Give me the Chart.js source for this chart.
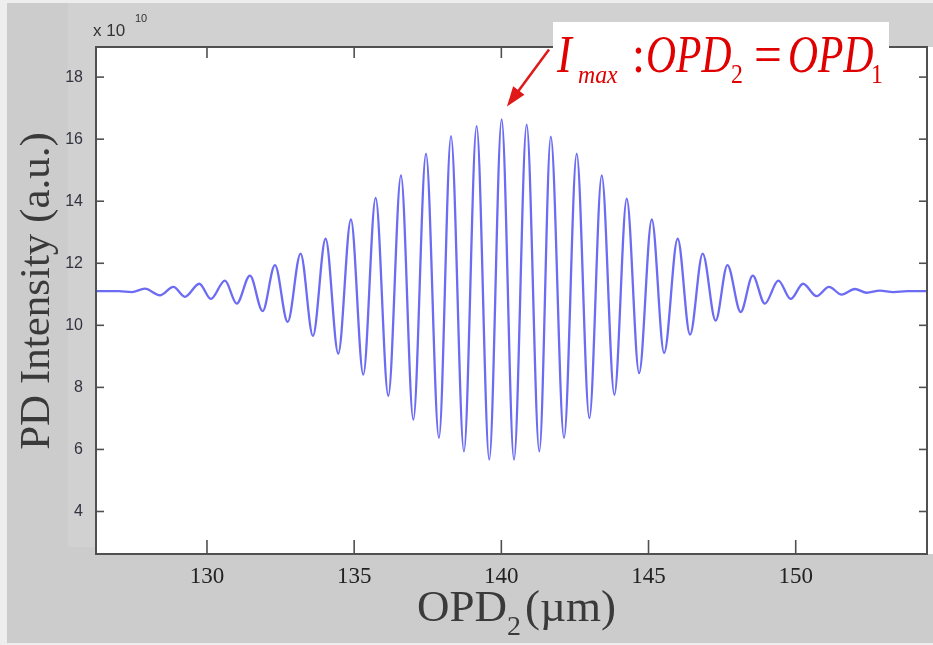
<!DOCTYPE html>
<html>
<head>
<meta charset="utf-8">
<script src="https://cdn.jsdelivr.net/npm/chart.js@4.4.1/dist/chart.umd.min.js"></script>
<style>
html, body { margin: 0; padding: 0; background: #fff; }
canvas { display: block; }
</style>
</head>
<body>
<canvas id="Graphic_pd" width="933" height="645"></canvas>
<script>
// OPD2 in µm at every peak / trough
var opdX = [126.23, 127.0, 127.45, 127.89, 128.40, 128.86, 129.25, 129.74, 130.13, 130.61,
  131.01, 131.46, 131.89, 132.31, 132.74, 133.18, 133.60, 134.03, 134.46, 134.89,
  135.31, 135.73, 136.16, 136.59, 137.01, 137.44, 137.88, 138.29, 138.73, 139.16,
  139.59, 140.01, 140.43, 140.86, 141.29, 141.68, 142.13, 142.56, 142.99, 143.41,
  143.84, 144.26, 144.68, 145.11, 145.53, 145.99, 146.41, 146.84, 147.28, 147.68,
  148.13, 148.54, 148.95, 149.41, 149.83, 150.25, 150.71, 151.13, 151.56, 152.01,
  152.41, 152.86, 153.31, 153.8, 154.46];
// PD intensity, x 10^10
var intensity = [11.10, 11.10, 11.07, 11.18, 10.97, 11.24, 10.92, 11.34, 10.85, 11.44,
  10.70, 11.60, 10.46, 11.94, 10.11, 12.31, 9.66, 12.79, 9.09, 13.41,
  8.41, 14.11, 7.73, 14.83, 6.96, 15.53, 6.37, 16.10, 5.94, 16.42,
  5.67, 16.64, 5.67, 16.47, 5.94, 16.08, 6.37, 15.53, 7.01, 14.83,
  7.76, 14.08, 8.46, 13.41, 9.11, 12.79, 9.70, 12.31, 10.15, 11.94,
  10.43, 11.60, 10.70, 11.44, 10.85, 11.34, 10.94, 11.24, 10.99, 11.17,
  11.05, 11.12, 11.07, 11.10, 11.10];
var xTicks = [130, 135, 140, 145, 150];
var yTicks = [4, 6, 8, 10, 12, 14, 16, 18];
var xRange = [126.23, 154.46];
var yRange = [2.63, 18.97];
// arrow pointing at I_max, in data units
var arrowFrom = [141.62, 18.89];
var arrowTo = [140.19, 17.05];

var points = opdX.map(function (x, i) { return { x: x, y: intensity[i] }; });

function line(c, x1, y1, x2, y2) {
  c.beginPath(); c.moveTo(x1, y1); c.lineTo(x2, y2); c.stroke();
}
function piece(c, s, x, y, font, sx) {
  c.save();
  c.font = font;
  c.translate(x, y);
  c.scale(sx, 1);
  c.fillText(s, 0, 0);
  c.restore();
}

var figure = {
  id: 'figure',
  beforeDraw: function (chart) {
    var c = chart.ctx, a = chart.chartArea;
    c.save();
    c.fillStyle = '#eeeeee';
    c.fillRect(0, 0, chart.width, chart.height);
    c.fillStyle = '#cccccc';
    c.fillRect(7, 3, chart.width - 7, 640);
    c.fillStyle = '#d1d1d1';
    c.fillRect(68, 3, a.left - 68, 544);
    c.fillRect(68, 3, chart.width - 68, a.top - 3);
    c.fillStyle = '#ffffff';
    c.fillRect(a.left, a.top, chart.width - a.left, a.bottom - a.top);
    c.restore();
  },
  afterDraw: function (chart) {
    var c = chart.ctx, a = chart.chartArea;
    var xs = chart.scales.x, ys = chart.scales.y;
    c.save();
    // box + inward ticks
    c.strokeStyle = '#505050';
    c.lineWidth = 2;
    c.strokeRect(a.left, a.top, a.right - a.left, a.bottom - a.top);
    c.lineWidth = 1.6;
    xs.ticks.forEach(function (t) {
      var px = xs.getPixelForValue(t.value);
      line(c, px, a.bottom, px, a.bottom - 14);
      line(c, px, a.top, px, a.top + 11);
    });
    ys.ticks.forEach(function (t) {
      var py = ys.getPixelForValue(t.value);
      line(c, a.left, py, a.left + 8, py);
      line(c, a.right, py, a.right - 8, py);
    });

    // exponent
    c.fillStyle = '#333';
    c.font = '17px "Liberation Sans"';
    c.fillText('x 10', 93, 36);
    c.font = '11px "Liberation Sans"';
    c.fillText('10', 135, 22);

    // y title
    c.save();
    c.fillStyle = '#3a3a3a';
    c.font = '43px "Liberation Serif"';
    c.textAlign = 'center';
    c.translate(49, 291);
    c.rotate(-Math.PI / 2);
    c.fillText('PD Intensity (a.u.)', 0, 0);
    c.restore();

    // x title with subscript
    c.fillStyle = '#3a3a3a';
    var big = '45px "Liberation Serif"', sub = '28px "Liberation Serif"';
    c.font = big; var w1 = c.measureText('OPD').width, w3 = c.measureText('(\u00b5m)').width;
    c.font = sub; var w2 = c.measureText('2').width;
    var x0 = (a.left + a.right) / 2 + 5 - (w1 + w2 + 4 + w3) / 2;
    c.font = big; c.fillText('OPD', x0, 621);
    c.font = sub; c.fillText('2', x0 + w1, 635);
    c.font = big; c.fillText('(\u00b5m)', x0 + w1 + w2 + 4, 621);

    // annotation
    c.fillStyle = '#ffffff';
    c.fillRect(553, 22, 336, 38);
    c.fillStyle = '#e00000';
    var it = 'italic 52px "Liberation Serif"';
    piece(c, 'I', 557, 71.5, it, 0.85);
    piece(c, 'max', 578, 83, 'italic 25px "Liberation Serif"', 0.95);
    piece(c, ':', 632, 71.5, '52px "Liberation Serif"', 0.9);
    piece(c, 'OPD', 646, 71.5, it, 0.8);
    piece(c, '2', 731, 83, '28px "Liberation Serif"', 0.85);
    piece(c, '=', 754, 71.5, '52px "Liberation Serif"', 0.95);
    piece(c, 'OPD', 788, 71.5, it, 0.8);
    piece(c, '1', 871, 83, '28px "Liberation Serif"', 0.85);

    // arrow
    var fx = xs.getPixelForValue(arrowFrom[0]), fy = ys.getPixelForValue(arrowFrom[1]);
    var tx = xs.getPixelForValue(arrowTo[0]), ty = ys.getPixelForValue(arrowTo[1]);
    var ang = Math.atan2(ty - fy, tx - fx);
    c.strokeStyle = '#e01818';
    c.fillStyle = '#e01818';
    c.lineWidth = 2.5;
    line(c, fx, fy, tx - 14 * Math.cos(ang), ty - 14 * Math.sin(ang));
    c.beginPath();
    c.moveTo(tx, ty);
    c.lineTo(tx - 20 * Math.cos(ang) + 7 * Math.sin(ang), ty - 20 * Math.sin(ang) - 7 * Math.cos(ang));
    c.lineTo(tx - 20 * Math.cos(ang) - 7 * Math.sin(ang), ty - 20 * Math.sin(ang) + 7 * Math.cos(ang));
    c.closePath();
    c.fill();
    c.restore();
  }
};

var pd = document.getElementById('Graphic_pd').getContext('2d');
var pdChart = new Chart(pd, {
  type: 'line',
  data: {
    datasets: [{
      label: 'PD Intensity',
      data: points,
      borderColor: 'rgba(75, 75, 240, 0.82)',
      borderWidth: 2.3,
      pointRadius: 0,
      fill: false,
      cubicInterpolationMode: 'monotone'
    }]
  },
  options: {
    responsive: false,
    animation: false,
    layout: { padding: { top: 47, right: 6, left: 0, bottom: 0 } },
    plugins: { legend: { display: false }, tooltip: { enabled: false } },
    scales: {
      x: {
        type: 'linear',
        min: xRange[0],
        max: xRange[1],
        afterBuildTicks: function (scale) { scale.ticks = xTicks.map(function (v) { return { value: v }; }); },
        afterFit: function (scale) { scale.height = 91; },
        grid: { display: false, tickLength: 0 },
        border: { display: false },
        ticks: { color: '#222', padding: 9, maxRotation: 0, font: { family: 'Liberation Serif', size: 23 } }
      },
      y: {
        min: yRange[0],
        max: yRange[1],
        afterBuildTicks: function (scale) { scale.ticks = yTicks.map(function (v) { return { value: v }; }); },
        afterFit: function (scale) { scale.width = 96; },
        grid: { display: false, tickLength: 0 },
        border: { display: false },
        ticks: { color: '#333340', padding: 13, font: { family: 'Liberation Sans', size: 16 } }
      }
    }
  },
  plugins: [figure]
});
</script>
</body>
</html>
